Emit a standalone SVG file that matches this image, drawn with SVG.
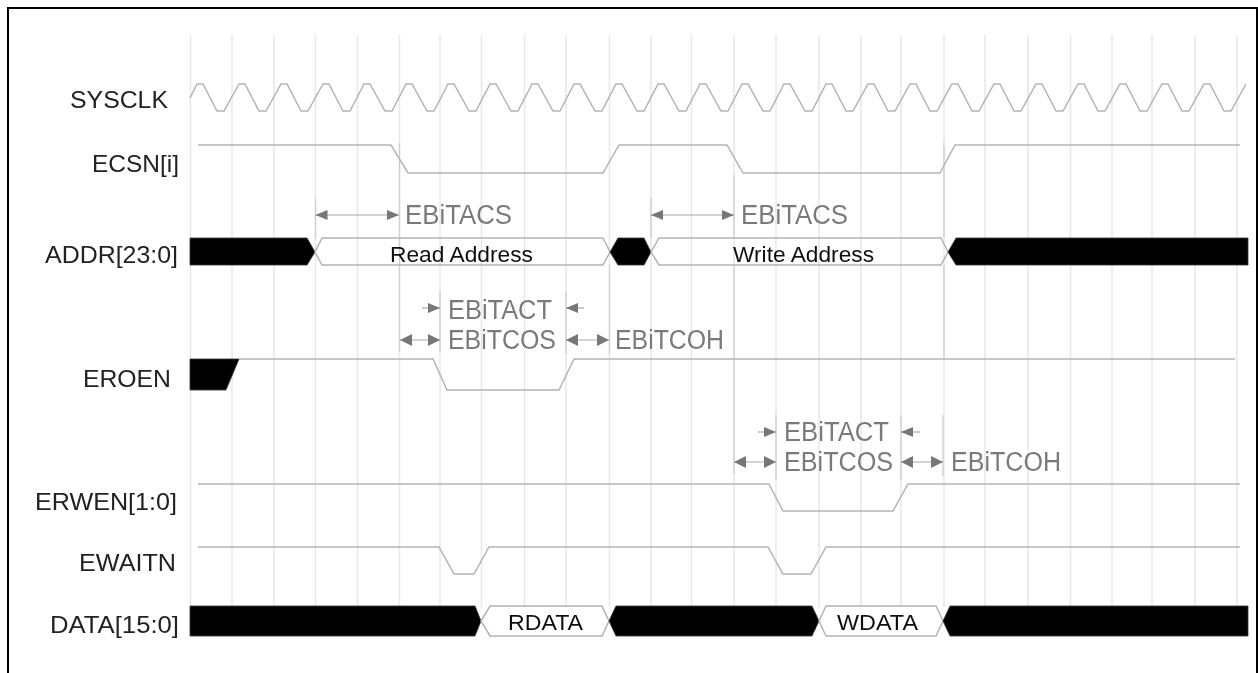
<svg xmlns="http://www.w3.org/2000/svg" width="1258" height="673" viewBox="0 0 1258 673">
<defs>
<marker id="ah" markerUnits="userSpaceOnUse" markerWidth="13" markerHeight="11" refX="12" refY="5.5" orient="auto-start-reverse"><path d="M0 0.5L12 5.5L0 10.5Z" fill="#777"/></marker>
<marker id="am" markerUnits="userSpaceOnUse" markerWidth="13" markerHeight="13" refX="12" refY="6.5" orient="auto-start-reverse"><path d="M0 0.5L12 6.5L0 12.500Z" fill="#777"/></marker>
<filter id="soft" x="0" y="0" width="1" height="1" filterUnits="objectBoundingBox"><feGaussianBlur stdDeviation="0.45"/></filter>
</defs>
<style>
text{font-family:"Liberation Sans",Arial,sans-serif}
.lab{font-size:24.5px;fill:#222}
.dim{font-size:27px;fill:#7a7a7a}
.val{font-size:22.5px;fill:#111}
.g{stroke:#e8e8e8;stroke-width:1.5;fill:none}
.e{stroke:#cfcfcf;stroke-width:1.3;fill:none}
.w{stroke:#b4b4b4;stroke-width:1.5;fill:none}
.b{fill:#000;stroke:#333;stroke-width:.8}
.a{stroke:#a8a8a8;stroke-width:1.2;fill:none}
.ar{marker-start:url(#ah);marker-end:url(#ah)}
.am{marker-start:url(#am);marker-end:url(#am)}
.ae{marker-end:url(#ah)}
</style>
<rect width="1258" height="673" fill="#fff"/>
<g filter="url(#soft)">
<rect width="1258" height="673" fill="#fff"/>
<path d="M8 680V8H1257V680" fill="none" stroke="#000" stroke-width="2"/>
<g id="grid">
<path class="g" d="M190.500 35V607M232 35V607M274 35V607M315.500 35V607M357.500 35V607M399.500 35V607M440 35V607M481.500 35V607M524.500 35V607M566 35V607M609.500 35V607M651 35V607M691.500 35V607M734 35V607M776 35V607M819 35V607M861 35V607M901 35V607M944 35V607M985 35V607M1028 35V607M1070.500 35V607M1112 35V607M1152 35V607M1195 35V607M1237 35V607"/>
</g>
<g id="connectors">
<path class="e" d="M399.500 143V352M315.500 198V238M651 198V238M609.500 265V354M440 292V352M566 292V354M734 175V238M734 265V474M944 143V238M944 265V358M776 415V480M901 415V480M943 415V476"/>
<path class="a ar" d="M315.500 215H399"/>
<path class="a ar" d="M651 215H734"/>
<path class="a ae" d="M422 308H440"/>
<path class="a ae" d="M584 308H566"/>
<path class="a am" d="M400 340H440"/>
<path class="a am" d="M566 340H609"/>
<path class="a ae" d="M758 432H776"/>
<path class="a ae" d="M920 432H901"/>
<path class="a am" d="M734 462H776"/>
<path class="a am" d="M901 462H943"/>
</g>
<g id="sysclk"><text class="lab" x="70" y="108" textLength="98" lengthAdjust="spacingAndGlyphs">SYSCLK</text>
<path class="w" d="M190 98L197 84H203L217 111H224L239 84H245L259 111H266L281 84H287L301 111H308L323 84H329L343 111H350L364 84H370L385 111H392L406 84H412L427 111H434L448 84H454L469 111H476L490 84H496L511 111H518L532 84H538L553 111H560L574 84H580L595 111H602L616 84H622L637 111H644L658 84H664L679 111H686L700 84H706L721 111H728L742 84H748L763 111H770L784 84H790L805 111H812L826 84H832L846 111H853L868 84H874L888 111H895L910 84H916L930 111H937L952 84H958L972 111H979L994 84H1000L1014 111H1021L1036 84H1042L1056 111H1063L1078 84H1084L1098 111H1105L1120 84H1126L1140 111H1147L1162 84H1168L1182 111H1189L1204 84H1210L1224 111H1231L1246 84"/></g>
<g id="ecsn"><text class="lab" x="92" y="172" textLength="87" lengthAdjust="spacingAndGlyphs">ECSN[i]</text>
<path class="w" d="M198 145H391L408 173H603L619 145H727L743 173H940L955 145H1240"/></g>
<g id="addr"><text class="lab" x="45" y="263" textLength="133" lengthAdjust="spacingAndGlyphs">ADDR[23:0]</text>
<path class="b" d="M190 238H307L315 252L307 265H190Z"/>
<path class="w" d="M315 252L322 238H603L610 252L603 265H322Z"/>
<path class="b" d="M610 252L618 238H644L651 252L644 265H618Z"/>
<path class="w" d="M651 252L659 238H941L948 252L941 265H659Z"/>
<path class="b" d="M948 252L956 238H1248V265H956Z"/>
<text class="val" x="390" y="262" textLength="143" lengthAdjust="spacingAndGlyphs">Read Address</text>
<text class="val" x="733" y="262" textLength="141" lengthAdjust="spacingAndGlyphs">Write Address</text></g>
<g id="eroen"><text class="lab" x="83" y="387" textLength="88" lengthAdjust="spacingAndGlyphs">EROEN</text>
<path class="b" d="M190 359H239L226 390H190Z"/>
<path class="w" d="M239 359H433L447 390H559L574 359H1235"/></g>
<g id="erwen"><text class="lab" x="35" y="510" textLength="142" lengthAdjust="spacingAndGlyphs">ERWEN[1:0]</text>
<path class="w" d="M198 484H769L783 511H893L908 484H1240"/></g>
<g id="ewaitn"><text class="lab" x="79" y="571" textLength="97" lengthAdjust="spacingAndGlyphs">EWAITN</text>
<path class="w" d="M198 547H439L454 574H474L489 547H768L783 574H811L826 547H1240"/></g>
<g id="data"><text class="lab" x="50" y="633" textLength="129" lengthAdjust="spacingAndGlyphs">DATA[15:0]</text>
<path class="b" d="M190 606H475L481 621L475 636H190Z"/>
<path class="w" d="M481 621L490 606H602L609 621L602 636H490Z"/>
<path class="b" d="M609 621L616 606H812L819 621L812 636H616Z"/>
<path class="w" d="M819 621L826 606H936L943 621L936 636H826Z"/>
<path class="b" d="M943 621L950 606H1248V636H950Z"/>
<text class="val" x="508" y="630" textLength="75" lengthAdjust="spacingAndGlyphs">RDATA</text>
<text class="val" x="837" y="630" textLength="81" lengthAdjust="spacingAndGlyphs">WDATA</text></g>
<g id="dimensions">
<text class="dim" x="405" y="224" textLength="107" lengthAdjust="spacingAndGlyphs">EBiTACS</text>
<text class="dim" x="741" y="224" textLength="107" lengthAdjust="spacingAndGlyphs">EBiTACS</text>
<text class="dim" x="448" y="319" textLength="104" lengthAdjust="spacingAndGlyphs">EBiTACT</text>
<text class="dim" x="448" y="349" textLength="108" lengthAdjust="spacingAndGlyphs">EBiTCOS</text>
<text class="dim" x="615" y="349" textLength="109" lengthAdjust="spacingAndGlyphs">EBiTCOH</text>
<text class="dim" x="784" y="441" textLength="105" lengthAdjust="spacingAndGlyphs">EBiTACT</text>
<text class="dim" x="784" y="471" textLength="109" lengthAdjust="spacingAndGlyphs">EBiTCOS</text>
<text class="dim" x="951" y="471" textLength="110" lengthAdjust="spacingAndGlyphs">EBiTCOH</text>
</g>
</g>
</svg>
